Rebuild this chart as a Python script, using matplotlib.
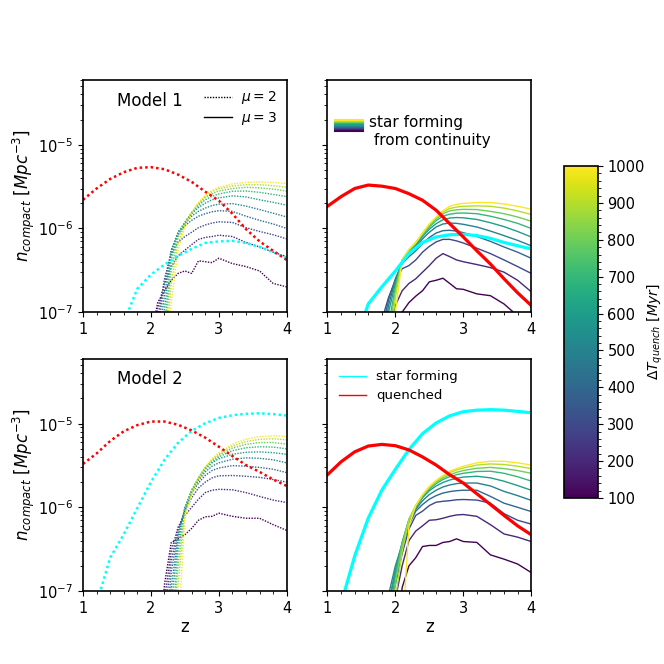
import numpy as np
import matplotlib.pyplot as plt
from matplotlib.colors import Normalize
from matplotlib.cm import ScalarMappable
from matplotlib.legend_handler import HandlerBase
from matplotlib.lines import Line2D
from matplotlib.ticker import MultipleLocator

# quench timescales (Myr) -> one line each
dt_quench = [100, 200, 300, 400, 500, 600, 700, 800, 900, 1000]

# redshift grids
z_main = [1.0, 1.2, 1.4, 1.6, 1.8, 2.0, 2.2, 2.4, 2.6, 2.8, 3.0, 3.2, 3.4, 3.6, 3.8, 4.0]
z_sf = [1.8, 1.9, 2.0, 2.1, 2.2, 2.3, 2.4, 2.5, 2.6, 2.7, 2.8, 2.9, 3.0, 3.2, 3.4, 3.6, 3.8, 4.0]

# number densities in units of 1e-6 Mpc^-3
# Model 1, mu = 2
quenched_m1_mu2 = [2.2, 3.0, 3.9, 4.7, 5.3, 5.4, 5.1, 4.4, 3.6, 2.75, 2.15, 1.5, 0.98, 0.7, 0.54, 0.42]
starform_m1_mu2 = [0.001, 0.005, 0.02, 0.075, 0.19, 0.28, 0.37, 0.47, 0.57, 0.67, 0.7, 0.71, 0.67, 0.6, 0.52, 0.44]
cont_m1_mu2 = [
    [0.01, 0.01, 0.05, 0.13, 0.18, 0.24, 0.29, 0.31, 0.29, 0.41, 0.4, 0.39, 0.44, 0.38, 0.35, 0.31, 0.22, 0.2],
    [0.01, 0.01, 0.03, 0.11, 0.22, 0.35, 0.47, 0.55, 0.64, 0.74, 0.78, 0.8, 0.83, 0.8, 0.68, 0.6, 0.52, 0.46],
    [0.01, 0.01, 0.02, 0.08, 0.25, 0.5, 0.68, 0.8, 0.9, 1.02, 1.1, 1.16, 1.2, 1.18, 1.02, 0.92, 0.84, 0.75],
    [0.01, 0.01, 0.01, 0.06, 0.22, 0.55, 0.85, 1.08, 1.25, 1.4, 1.5, 1.58, 1.63, 1.6, 1.4, 1.25, 1.13, 1.0],
    [0.01, 0.01, 0.01, 0.04, 0.16, 0.55, 0.9, 1.15, 1.4, 1.6, 1.75, 1.88, 1.95, 1.98, 1.85, 1.68, 1.52, 1.37],
    [0.01, 0.01, 0.01, 0.03, 0.11, 0.5, 0.9, 1.18, 1.5, 1.78, 2.0, 2.2, 2.32, 2.45, 2.38, 2.2, 2.05, 1.9],
    [0.01, 0.01, 0.01, 0.02, 0.07, 0.42, 0.85, 1.18, 1.55, 1.88, 2.2, 2.42, 2.58, 2.78, 2.8, 2.7, 2.55, 2.4],
    [0.01, 0.01, 0.01, 0.01, 0.05, 0.32, 0.78, 1.15, 1.55, 1.95, 2.35, 2.6, 2.8, 3.0, 3.1, 3.05, 2.95, 2.8],
    [0.01, 0.01, 0.01, 0.01, 0.03, 0.22, 0.68, 1.1, 1.55, 2.0, 2.45, 2.75, 2.98, 3.22, 3.33, 3.33, 3.25, 3.1],
    [0.01, 0.01, 0.01, 0.01, 0.02, 0.13, 0.55, 1.05, 1.55, 2.05, 2.5, 2.85, 3.1, 3.4, 3.55, 3.6, 3.55, 3.45],
]

# Model 1, mu = 3
quenched_m1_mu3 = [1.84, 2.4, 3.0, 3.3, 3.2, 3.0, 2.6, 2.17, 1.65, 1.14, 0.79, 0.54, 0.375, 0.25, 0.17, 0.12]
starform_m1_mu3 = [0.001, 0.005, 0.04, 0.125, 0.2, 0.31, 0.5, 0.68, 0.79, 0.84, 0.85, 0.82, 0.76, 0.68, 0.62, 0.57]
cont_m1_mu3 = [
    [0.01, 0.01, 0.01, 0.1, 0.13, 0.155, 0.18, 0.23, 0.24, 0.254, 0.22, 0.19, 0.187, 0.165, 0.157, 0.125, 0.09, 0.07],
    [0.02, 0.06, 0.12, 0.18, 0.22, 0.25, 0.3, 0.36, 0.44, 0.5, 0.46, 0.42, 0.4, 0.37, 0.34, 0.3, 0.24, 0.175],
    [0.08, 0.15, 0.24, 0.33, 0.36, 0.42, 0.52, 0.61, 0.69, 0.74, 0.74, 0.71, 0.67, 0.58, 0.5, 0.42, 0.35, 0.29],
    [0.06, 0.14, 0.25, 0.38, 0.46, 0.54, 0.66, 0.78, 0.88, 0.94, 0.95, 0.93, 0.89, 0.8, 0.7, 0.6, 0.52, 0.44],
    [0.04, 0.12, 0.24, 0.4, 0.5, 0.6, 0.75, 0.9, 1.04, 1.13, 1.16, 1.15, 1.12, 1.04, 0.93, 0.82, 0.72, 0.62],
    [0.02, 0.1, 0.22, 0.41, 0.52, 0.63, 0.8, 0.98, 1.14, 1.27, 1.33, 1.35, 1.34, 1.28, 1.17, 1.05, 0.92, 0.79],
    [0.01, 0.07, 0.2, 0.42, 0.54, 0.66, 0.84, 1.04, 1.24, 1.4, 1.48, 1.52, 1.53, 1.5, 1.4, 1.28, 1.15, 1.0],
    [0.01, 0.05, 0.18, 0.42, 0.55, 0.67, 0.86, 1.08, 1.3, 1.5, 1.62, 1.67, 1.69, 1.68, 1.6, 1.5, 1.37, 1.22],
    [0.01, 0.03, 0.15, 0.42, 0.56, 0.68, 0.88, 1.12, 1.35, 1.57, 1.73, 1.8, 1.84, 1.86, 1.84, 1.75, 1.62, 1.47],
    [0.01, 0.01, 0.1, 0.42, 0.56, 0.68, 0.88, 1.13, 1.37, 1.62, 1.84, 1.94, 1.99, 2.04, 2.04, 1.96, 1.84, 1.7],
]

# Model 2, mu = 2
quenched_m2_mu2 = [3.3, 4.4, 6.2, 8.1, 9.6, 10.6, 10.6, 9.7, 8.3, 6.8, 5.3, 4.1, 3.2, 2.65, 2.15, 1.8]
starform_m2_mu2 = [0.005, 0.07, 0.25, 0.475, 0.98, 2.0, 3.7, 5.9, 8.2, 10.1, 11.7, 12.6, 13.1, 13.3, 13.0, 12.5]
cont_m2_mu2 = [
    [0.01, 0.01, 0.01, 0.01, 0.12, 0.38, 0.42, 0.47, 0.56, 0.7, 0.77, 0.78, 0.85, 0.78, 0.74, 0.74, 0.62, 0.53],
    [0.01, 0.01, 0.01, 0.01, 0.08, 0.3, 0.58, 0.8, 1.0, 1.25, 1.5, 1.6, 1.64, 1.62, 1.5, 1.35, 1.22, 1.14],
    [0.01, 0.01, 0.01, 0.01, 0.05, 0.23, 0.55, 0.9, 1.3, 1.7, 2.0, 2.25, 2.38, 2.4, 2.35, 2.28, 2.15, 2.0],
    [0.01, 0.01, 0.01, 0.01, 0.02, 0.17, 0.5, 0.95, 1.45, 1.95, 2.4, 2.75, 2.95, 3.15, 3.1, 3.0, 2.85, 2.6],
    [0.01, 0.01, 0.01, 0.01, 0.01, 0.11, 0.45, 0.98, 1.55, 2.1, 2.65, 3.1, 3.4, 3.75, 3.9, 3.85, 3.7, 3.4],
    [0.01, 0.01, 0.01, 0.01, 0.01, 0.07, 0.38, 0.98, 1.6, 2.2, 2.85, 3.4, 3.8, 4.3, 4.55, 4.6, 4.5, 4.3],
    [0.01, 0.01, 0.01, 0.01, 0.01, 0.03, 0.3, 0.95, 1.6, 2.25, 2.95, 3.5, 4.0, 4.75, 5.15, 5.3, 5.25, 5.0],
    [0.01, 0.01, 0.01, 0.01, 0.01, 0.02, 0.2, 0.9, 1.55, 2.25, 3.0, 3.6, 4.2, 5.1, 5.65, 5.95, 5.95, 5.7],
    [0.01, 0.01, 0.01, 0.01, 0.01, 0.01, 0.12, 0.8, 1.5, 2.25, 3.0, 3.7, 4.35, 5.4, 6.1, 6.5, 6.6, 6.4],
    [0.01, 0.01, 0.01, 0.01, 0.01, 0.01, 0.03, 0.75, 1.4, 2.2, 3.0, 3.8, 4.5, 5.7, 6.5, 7.0, 7.15, 7.05],
]

# Model 2, mu = 3
quenched_m2_mu3 = [2.45, 3.5, 4.6, 5.4, 5.65, 5.45, 4.85, 4.0, 3.2, 2.45, 1.95, 1.45, 1.08, 0.8, 0.6, 0.47]
starform_m2_mu3 = [0.005, 0.07, 0.26, 0.74, 1.6, 2.85, 4.9, 7.6, 10.2, 12.4, 13.9, 14.5, 14.7, 14.5, 14.0, 13.5]
cont_m2_mu3 = [
    [0.01, 0.01, 0.02, 0.11, 0.2, 0.25, 0.34, 0.35, 0.35, 0.38, 0.39, 0.42, 0.39, 0.38, 0.27, 0.24, 0.21, 0.166],
    [0.01, 0.03, 0.08, 0.2, 0.4, 0.52, 0.6, 0.7, 0.71, 0.74, 0.78, 0.81, 0.82, 0.78, 0.62, 0.48, 0.44, 0.39],
    [0.01, 0.05, 0.12, 0.28, 0.55, 0.8, 0.9, 1.05, 1.15, 1.18, 1.2, 1.23, 1.24, 1.22, 1.12, 0.84, 0.7, 0.63],
    [0.01, 0.07, 0.16, 0.32, 0.62, 0.9, 1.08, 1.25, 1.38, 1.48, 1.54, 1.58, 1.6, 1.6, 1.35, 1.12, 1.0, 0.89],
    [0.02, 0.09, 0.2, 0.36, 0.66, 0.95, 1.2, 1.42, 1.6, 1.75, 1.85, 1.92, 1.95, 1.95, 1.8, 1.55, 1.38, 1.21],
    [0.01, 0.07, 0.18, 0.38, 0.7, 1.0, 1.3, 1.58, 1.8, 1.98, 2.12, 2.22, 2.3, 2.35, 2.25, 2.05, 1.82, 1.6],
    [0.01, 0.05, 0.15, 0.38, 0.72, 1.02, 1.35, 1.65, 1.92, 2.15, 2.32, 2.45, 2.55, 2.68, 2.7, 2.55, 2.32, 2.06],
    [0.01, 0.03, 0.12, 0.36, 0.72, 1.04, 1.38, 1.7, 2.0, 2.25, 2.45, 2.62, 2.75, 2.93, 3.0, 2.9, 2.75, 2.55],
    [0.01, 0.02, 0.08, 0.3, 0.7, 1.05, 1.4, 1.75, 2.05, 2.35, 2.6, 2.8, 2.95, 3.2, 3.3, 3.25, 3.1, 2.9],
    [0.01, 0.01, 0.02, 0.03, 0.6, 1.05, 1.42, 1.78, 2.1, 2.4, 2.7, 2.9, 3.1, 3.4, 3.55, 3.55, 3.4, 3.2],
]

norm = Normalize(vmin=100, vmax=1000)
cmap = plt.get_cmap('viridis')


class StripeHandle:
    pass


class StripeHandler(HandlerBase):
    # stack of thin viridis lines, lifted to sit beside the first text line
    def create_artists(self, legend, orig_handle, xdescent, ydescent,
                       width, height, fontsize, trans):
        shift = 0.45 * fontsize
        arts = []
        for i, dt in enumerate(dt_quench):
            y = -ydescent + shift + height * i / (len(dt_quench) - 1)
            arts.append(Line2D([-xdescent, -xdescent + width], [y, y],
                               color=cmap(norm(dt)), lw=1.5, transform=trans))
        return arts


def draw_panel(ax, cont, starform, quenched, dotted):
    thin_ls = (0, (1, 1)) if dotted else '-'
    thick_ls = (0, (1, 1.2)) if dotted else '-'
    thick_lw = 1.8 if dotted else 2.3
    for dt, vals in zip(dt_quench, cont):
        ax.plot(z_sf, np.array(vals) * 1e-6, color=cmap(norm(dt)), lw=1, ls=thin_ls)
    ax.plot(z_main, np.array(starform) * 1e-6, color='cyan', lw=thick_lw, ls=thick_ls)
    ax.plot(z_main, np.array(quenched) * 1e-6, color='red', lw=thick_lw, ls=thick_ls)
    ax.set_yscale('log')
    ax.set_xlim(1, 4)
    ax.set_ylim(1e-7, 6e-5)
    ax.set_xticks([1, 2, 3, 4])
    ax.xaxis.set_minor_locator(MultipleLocator(0.2))
    ax.tick_params(labelsize=10.5)
    for sp in ax.spines.values():
        sp.set_linewidth(1.2)


fig, axes = plt.subplots(2, 2, figsize=(6.64, 6.64), dpi=100, sharey=True)
fig.subplots_adjust(right=0.8)

draw_panel(axes[0, 0], cont_m1_mu2, starform_m1_mu2, quenched_m1_mu2, True)
draw_panel(axes[0, 1], cont_m1_mu3, starform_m1_mu3, quenched_m1_mu3, False)
draw_panel(axes[1, 0], cont_m2_mu2, starform_m2_mu2, quenched_m2_mu2, True)
draw_panel(axes[1, 1], cont_m2_mu3, starform_m2_mu3, quenched_m2_mu3, False)

ylab = r'$n_{compact}\ [Mpc^{-3}]$'
axes[0, 0].set_ylabel(ylab, fontsize=12, labelpad=1)
axes[1, 0].set_ylabel(ylab, fontsize=12, labelpad=1)
axes[1, 0].set_xlabel('z', fontsize=12, labelpad=2)
axes[1, 1].set_xlabel('z', fontsize=12, labelpad=2)

axes[0, 0].text(0.165, 0.91, 'Model 1', transform=axes[0, 0].transAxes,
                fontsize=12, va='center')
axes[1, 0].text(0.165, 0.91, 'Model 2', transform=axes[1, 0].transAxes,
                fontsize=12, va='center')

# line style key
mu_handles = [Line2D([], [], color='k', lw=1, ls=(0, (1, 1))),
              Line2D([], [], color='k', lw=1, ls='-')]
axes[0, 0].legend(mu_handles, [r'$\mu = 2$', r'$\mu = 3$'], loc='upper right',
                  frameon=False, fontsize=10, labelspacing=0.25,
                  borderaxespad=0.3, handletextpad=0.7)

# continuity gradient key
stripe = StripeHandle()
axes[0, 1].legend([stripe], ['star forming\n from continuity'], loc='upper left',
                  bbox_to_anchor=(0.0, 0.88), frameon=False, fontsize=11,
                  handler_map={StripeHandle: StripeHandler()}, borderaxespad=0.1,
                  handlelength=1.8, handletextpad=0.4)

# population key
pop_handles = [Line2D([], [], color='cyan', lw=1),
               Line2D([], [], color='red', lw=1)]
axes[1, 1].legend(pop_handles, ['star forming', 'quenched'], loc='upper left',
                  frameon=False, fontsize=9.5, labelspacing=0.45)

cax = fig.add_axes([0.85, 0.25, 0.05, 0.5])
sm = ScalarMappable(norm=norm, cmap=cmap)
cb = fig.colorbar(sm, cax=cax)
cb.set_label(r'$\Delta T_{quench}\ [Myr]$', fontsize=10, labelpad=1)
cb.minorticks_on()
cb.ax.tick_params(labelsize=10.5)
cb.outline.set_linewidth(1.2)

fig.savefig('out.png', dpi=100)
